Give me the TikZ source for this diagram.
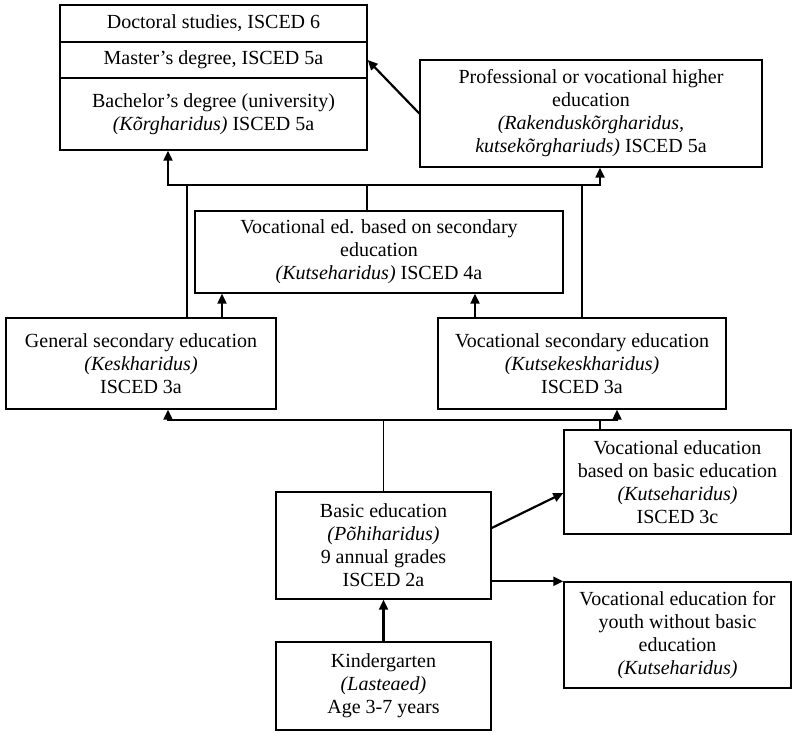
\documentclass[tikz,border=0pt]{standalone}
\usepackage{fontspec}
\setmainfont{Liberation Serif}
\usetikzlibrary{arrows.meta}

\begin{document}
\begin{tikzpicture}[x=1pt, y=-1pt,
        >={Triangle[length=10pt, width=9pt]},
        level/.style={draw, rectangle, line width=1.4pt, inner sep=0pt, align=center,
                font=\fontsize{20}{23}\selectfont},
        link/.style={line width=1.3pt},
        arrow/.style={line width=2.2pt, ->}]
    \useasboundingbox (0,0) rectangle (792,732);

    % higher education
    \node[level, minimum width=307pt, minimum height=37pt] (doc) at (213.5,23.5) {Doctoral studies, ISCED 6};
    \node[level, minimum width=307pt, minimum height=36pt] (mas) at (213.5,60) {Master's degree, ISCED 5a};
    \node[level, minimum width=307pt, minimum height=72pt] (bach) at (213.5,114)
    {Bachelor's degree (university)\\ \textit{(Kõrgharidus)} ISCED 5a};
    \node[level, minimum width=342pt, minimum height=107pt] (prof) at (591,113.5)
    {Professional or vocational higher\\ education\\ \textit{(Rakenduskõrgharidus,}\\ \textit{kutsekõrghariuds)} ISCED 5a};

    % secondary and post-secondary
    \node[level, minimum width=368pt, minimum height=82pt] (voc4) at (379,252)
    {Vocational ed. based on secondary\\ education\\ \textit{(Kutseharidus)} ISCED 4a};
    \node[level, minimum width=270pt, minimum height=91pt] (gen) at (141,363.5)
    {General secondary education\\ \textit{(Keskharidus)}\\ ISCED 3a};
    \node[level, minimum width=288pt, minimum height=91pt] (vsec) at (582,363.5)
    {Vocational secondary education\\ \textit{(Kutsekeskharidus)}\\ ISCED 3a};
    \node[level, minimum width=227pt, minimum height=104pt] (vbas) at (677.5,482)
    {Vocational education\\ based on basic education\\ \textit{(Kutseharidus)}\\ ISCED 3c};

    % basic level
    \node[level, minimum width=215pt, minimum height=107pt] (bas) at (383.5,545.5)
    {Basic education\\ \textit{(Põhiharidus)}\\ 9 annual grades\\ ISCED 2a};
    \node[level, minimum width=227pt, minimum height=106pt] (youth) at (677.5,635)
    {Vocational education for\\ youth without basic\\ education\\ \textit{(Kutseharidus)}};
    \node[level, minimum width=215pt, minimum height=88pt] (kg) at (383.5,686)
    {Kindergarten\\ \textit{(Lasteaed)}\\ Age 3-7 years};

    % upper bus
    \coordinate (upL) at (168,185);
    \coordinate (upR) at (600,185);
    \coordinate (upG) at (187,185);
    \coordinate (upM) at (367,185);
    \coordinate (upV) at (582,185);
    \draw[arrow, <->] (bach.south -| upL) -- (upL) -- (upR) -- (prof.south -| upR);
    \draw[link] (upG) -- (gen.north -| upG);
    \draw[link] (upM) -- (voc4.north -| upM);
    \draw[link] (upV) -- (vsec.north -| upV);
    \draw[arrow] (prof.west) -- (mas.east);

    \coordinate (xG) at (222,0);
    \coordinate (xV) at (475,0);
    \draw[arrow] (gen.north -| xG) -- (voc4.south -| xG);
    \draw[arrow] (vsec.north -| xV) -- (voc4.south -| xV);

    % lower bus
    \coordinate (dnL) at (168,420);
    \coordinate (dnR) at (617,420);
    \coordinate (dnV) at (600,420);
    \draw[arrow, <->] (gen.south -| dnL) -- (dnL) -- (dnR) -- (vsec.south -| dnR);
    \draw[link] (bas.north) -- (bas.north |- dnL);
    \draw[link] (dnV) -- (vbas.north -| dnV);

    \draw[arrow] ([yshift=17.5pt]bas.east) -- ([yshift=-11pt]vbas.west);
    \draw[arrow] (bas.east |- youth.north west) -- (youth.north west);
    \draw[arrow] (kg.north) -- (bas.south);

\end{tikzpicture}
\end{document}
